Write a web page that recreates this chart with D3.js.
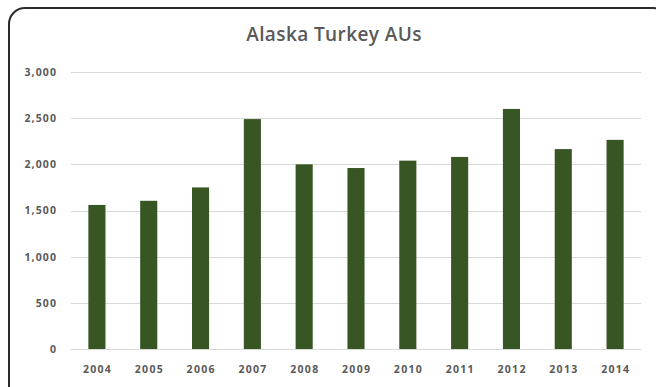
<!DOCTYPE html>
<html>
<head>
<meta charset="utf-8">
<script src="https://cdn.jsdelivr.net/npm/d3@7"></script>
<style>
  html, body { margin: 0; padding: 0; background: #fff; }
  svg { display: block; }
</style>
</head>
<body>
<svg id="chart" width="656" height="387"></svg>
<script>
// Alaska turkey AUs by year
const years = ["2004","2005","2006","2007","2008","2009","2010","2011","2012","2013","2014"];
const aus = [1560, 1605, 1750, 2490, 2000, 1960, 2040, 2080, 2600, 2165, 2265];
const yTicks = [0, 500, 1000, 1500, 2000, 2500, 3000];
const title = "Alaska Turkey AUs";

const svg = d3.select("#chart");
const W = 656, H = 387;
const margin = { left: 71, right: 15, top: 72, bottom: 38 };
const font = "'Open Sans', Lato, sans-serif";

// chart frame with rounded corners
svg.append("rect")
  .attr("x", 9).attr("y", 8)
  .attr("width", 660).attr("height", 395)
  .attr("rx", 16).attr("ry", 16)
  .attr("fill", "#fff")
  .attr("stroke", "#2b2b2b")
  .attr("stroke-width", 2);

svg.append("text")
  .attr("x", 334).attr("y", 41)
  .attr("text-anchor", "middle")
  .attr("font-family", font)
  .attr("font-size", 19)
  .attr("font-weight", 600)
  .attr("letter-spacing", 0.4)
  .attr("fill", "#595959")
  .text(title);

const x = d3.scaleBand()
  .domain(years)
  .range([margin.left, W - margin.right])
  .paddingInner(0.67)
  .paddingOuter(0.335);

const y = d3.scaleLinear()
  .domain([0, 3000])
  .range([H - margin.bottom, margin.top]);

// gridlines
svg.append("g")
  .selectAll("line")
  .data(yTicks)
  .join("line")
  .attr("x1", margin.left).attr("x2", W - margin.right)
  .attr("y1", d => Math.round(y(d)) + 0.5)
  .attr("y2", d => Math.round(y(d)) + 0.5)
  .attr("stroke", "#d9d9d9")
  .attr("stroke-width", 1);

// y axis labels
const yAxis = d3.axisLeft(y)
  .tickValues(yTicks)
  .tickFormat(d3.format(","))
  .tickSize(0)
  .tickPadding(0);
const gy = svg.append("g")
  .attr("transform", `translate(${margin.left - 14},0)`)
  .call(yAxis);
gy.select(".domain").remove();
gy.selectAll("text")
  .attr("font-family", font)
  .attr("font-size", 10.5)
  .attr("font-weight", 700)
  .attr("letter-spacing", 1.1)
  .attr("fill", "#595959");

// bars
svg.append("g")
  .selectAll("rect")
  .data(years)
  .join("rect")
  .attr("x", d => x(d))
  .attr("width", x.bandwidth())
  .attr("y", (d, i) => y(aus[i]))
  .attr("height", (d, i) => y(0) - y(aus[i]))
  .attr("fill", "#375623");

// x axis labels
const xAxis = d3.axisBottom(x).tickSize(0).tickPadding(17);
const gx = svg.append("g")
  .attr("transform", `translate(0,${y(0)})`)
  .call(xAxis);
gx.select(".domain").remove();
gx.selectAll("text")
  .attr("font-family", font)
  .attr("font-size", 10.5)
  .attr("font-weight", 700)
  .attr("letter-spacing", 1.3)
  .attr("dx", 0.65)
  .attr("fill", "#595959");
</script>
</body>
</html>
